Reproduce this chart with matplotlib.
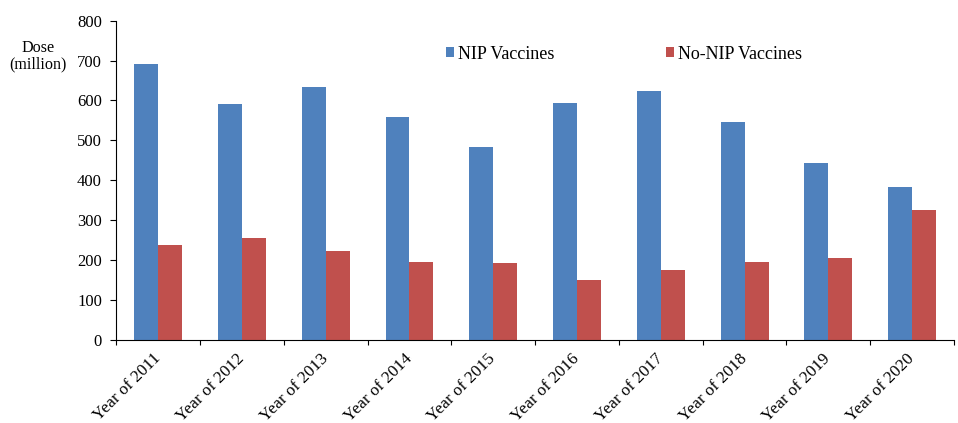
"""
NIP vs non-NIP vaccine doses by year, 2011-2020.
"""

import numpy as np
import matplotlib
matplotlib.use("Agg")
import matplotlib.pyplot as plt

years = ["Year of 2011", "Year of 2012", "Year of 2013", "Year of 2014", "Year of 2015",
         "Year of 2016", "Year of 2017", "Year of 2018", "Year of 2019", "Year of 2020"]
nip = [692, 590, 635, 559, 484, 593, 623, 546, 444, 384]
no_nip = [237, 254, 222, 196, 192, 150, 175, 196, 206, 326]

plt.rcParams["font.family"] = ["Liberation Serif", "DejaVu Serif"]
plt.rcParams["font.size"] = 12

fig = plt.figure(figsize=(9.58, 4.23), dpi=100)
ax = fig.add_axes([0.1214, 0.197, 0.8744, 0.754])

x = np.arange(len(years))
w = 0.286
ax.bar(x - w / 2, nip, w, color="#4F81BD", label="NIP Vaccines")
ax.bar(x + w / 2, no_nip, w, color="#C0504D", label="No-NIP Vaccines")

ax.set_xlim(-0.5, len(years) - 0.5)
ax.set_ylim(0, 800)
ax.set_yticks(range(0, 801, 100))

ax.set_xticks(x)
ax.set_xticklabels(years, rotation=45, ha="right", va="center", rotation_mode="anchor",
                   fontsize=12.3)
ax.tick_params(axis="x", length=0, pad=12)
ax.set_xticks(np.arange(-0.5, len(years)), minor=True)
ax.tick_params(axis="x", which="minor", length=3.6, direction="out", width=0.8)
ax.tick_params(axis="y", length=4.3, pad=6, direction="out", width=0.8)

for s in ["top", "right"]:
    ax.spines[s].set_visible(False)
for s in ["left", "bottom"]:
    ax.spines[s].set_linewidth(0.8)

ax.set_ylabel("Dose\n(million)", rotation=0, ha="center", va="center",
              linespacing=1.05, fontsize=11.6)
ax.yaxis.set_label_coords(-0.0935, 0.89)

ax.legend(loc="center left", bbox_to_anchor=(0.3932, 0.895), ncol=2, frameon=False,
          fontsize=13, handlelength=0.46, handleheight=0.46, handletextpad=0.2,
          columnspacing=6.2, borderpad=0, borderaxespad=0)

fig.savefig("out.png", dpi=100)
